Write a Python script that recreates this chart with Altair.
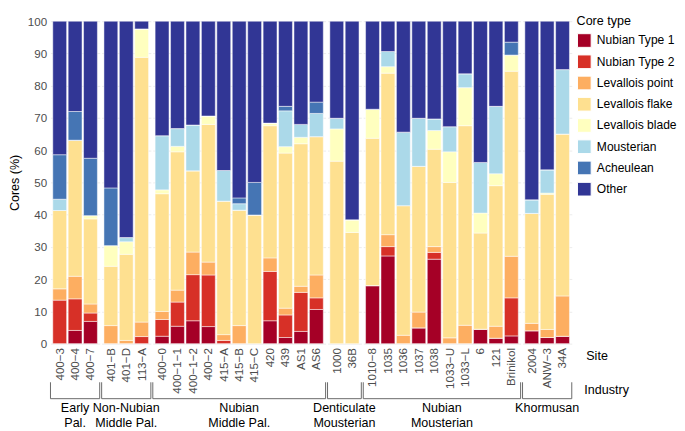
import altair as alt
import pandas as pd

# ---- data -------------------------------------------------------------
core_types = ["Nubian Type 1", "Nubian Type 2", "Levallois point", "Levallois flake",
              "Levallois blade", "Mousterian", "Acheulean", "Other"]
core_colors = ["#a50026", "#d73027", "#fdae61", "#fee090",
               "#ffffbf", "#abd9e9", "#4575b4", "#313695"]

industry_names = ["Early Pal.", "Non-Nubian Middle Pal.", "Nubian Middle Pal.",
                  "Denticulate Mousterian", "Nubian Mousterian", "Khormusan"]
industry_lines = [["Early", "Pal."], ["Non-Nubian", "Middle Pal."], ["Nubian", "Middle Pal."],
                  ["Denticulate", "Mousterian"], ["Nubian", "Mousterian"], ["Khormusan"]]
industry_sites = [
    ["400−3", "400−4", "400−7"],
    ["401−B", "401−D", "113−A"],
    ["400−0", "400−1−1", "400−1−2", "400−2", "415−A", "415−B", "415−C", "420", "439", "AS1", "AS6"],
    ["1000", "36B"],
    ["1010−8", "1035", "1036", "1037", "1038", "1033−U", "1033−L", "6", "121", "Brinikol"],
    ["2004", "ANW−3", "34A"],
]

# percentages per core type, in site order (32 sites)
nubian_type_1 = [0, 4.1, 6.9,  0, 0, 0,
                 2.3, 5.4, 7.1, 5.3, 0, 0, 0, 7.1, 1.9, 3.8, 10.6,
                 0, 0,
                 18.0, 27.2, 0, 4.9, 26.2, 0, 0, 4.5, 1.7, 2.4,
                 4.0, 1.9, 2.3]
nubian_type_2 = [13.5, 9.8, 2.6,  0, 0, 2.2,
                 5.2, 7.5, 14.3, 16.0, 1.0, 0, 0, 15.3, 7.0, 12.1, 3.6,
                 0, 0,
                 0, 2.9, 0, 0, 2.1, 0, 0, 0, 0, 11.8,
                 0, 0, 0]
levallois_point = [3.5, 7.0, 2.8,  5.6, 1.0, 4.5,
                   2.5, 3.7, 7.0, 4.0, 1.8, 5.6, 0, 4.2, 2.1, 1.9, 7.1,
                   0, 0,
                   0, 3.7, 2.6, 4.9, 1.8, 1.8, 5.7, 0, 3.7, 12.9,
                   2.3, 2.5, 12.5]
levallois_flake = [24.3, 42.2, 26.4,  18.4, 26.7, 82.1,
                   36.5, 42.9, 25.2, 42.7, 41.4, 35.8, 39.9, 41.0, 48.1, 44.2, 42.9,
                   56.6, 34.5,
                   45.7, 50.1, 40.2, 45.2, 30.2, 48.2, 61.9, 29.8, 43.6, 57.4,
                   34.1, 41.9, 50.2]
levallois_blade = [0, 0, 1.0,  6.4, 3.9, 8.8,
                   1.2, 1.7, 0, 2.6, 0, 0, 0, 0.8, 2.0, 2.0, 0,
                   10.0, 3.9,
                   9.0, 2.0, 0, 0, 5.8, 9.5, 11.8, 6.2, 3.7, 5.0,
                   0, 0.4, 0]
mousterian = [3.5, 0, 0,  0, 1.3, 0,
              16.8, 5.5, 14.2, 0, 9.5, 2.0, 0, 0, 11.1, 4.0, 7.2,
              3.3, 0,
              0, 4.7, 22.8, 14.9, 3.6, 7.8, 4.3, 15.7, 20.9, 0,
              4.2, 7.2, 20.0]
acheulean = [13.8, 8.9, 17.8,  17.9, 0, 0,
             0, 0, 0, 0, 0, 1.8, 10.1, 0, 1.4, 0, 3.5,
             0, 0,
             0, 0, 0, 0, 0, 0, 0, 0, 0, 4.0,
             0, 0, 0]
other = [41.4, 28.0, 42.5,  51.7, 67.1, 2.4,
         35.5, 33.3, 32.2, 29.4, 46.3, 54.8, 50.0, 31.6, 26.4, 32.0, 25.1,
         30.1, 61.6,
         27.3, 9.4, 34.4, 30.1, 30.3, 32.7, 16.3, 43.8, 26.4, 6.5,
         55.4, 46.1, 15.0]

series = [nubian_type_1, nubian_type_2, levallois_point, levallois_flake,
          levallois_blade, mousterian, acheulean, other]

rows = []
k = 0
for ind, sites in zip(industry_names, industry_sites):
    for s in sites:
        for t_i, (t, vals) in enumerate(zip(core_types, series)):
            rows.append({"industry": ind, "site": s, "type": t, "ord": t_i, "pct": vals[k]})
        k += 1
df = pd.DataFrame(rows)

# ---- layout -----------------------------------------------------------
STEP = 16.0
H = 334
GAP = 2
FONT = "Liberation Sans"
BRACKET = "#666666"

widths = [round(STEP * (len(s) + 0.2)) for s in industry_sites]
total_w = sum(widths) + GAP * (len(widths) - 1)

color_enc = alt.Color(
    "type:N",
    scale=alt.Scale(domain=core_types, range=core_colors),
    legend=alt.Legend(
        title="Core type", orient="none", legendX=total_w + 5, legendY=-6,
        symbolType="square", symbolSize=200, symbolStrokeColor="white",
        symbolStrokeWidth=1, symbolOpacity=1, labelFontSize=12.5,
        titleFontSize=13, titleFontWeight="normal", titleColor="black",
        labelColor="black", rowPadding=2, titlePadding=5, labelOffset=5,
    ),
)

one = alt.Data(values=[{"k": 1}])
panels = []
for i, (ind, lines, sites) in enumerate(zip(industry_names, industry_lines, industry_sites)):
    w = widths[i]
    sub = df[df["industry"] == ind]
    if i == 0:
        yaxis = alt.Axis(values=list(range(0, 101, 10)), grid=True, gridColor="#ebebeb",
                         domain=False, ticks=False, labelColor="#4d4d4d", labelFontSize=12,
                         labelPadding=4, title="Cores (%)", titleFontSize=13,
                         titleFontWeight="normal", titleColor="black", titlePadding=6)
    else:
        yaxis = alt.Axis(values=list(range(0, 101, 10)), grid=True, gridColor="#ebebeb",
                         domain=False, ticks=False, labels=False, title=None)
    bars = alt.Chart(sub).mark_bar(stroke="white", strokeWidth=0.5).encode(
        x=alt.X("site:N", sort=sites,
                scale=alt.Scale(paddingInner=0.1, paddingOuter=0.15),
                axis=alt.Axis(title=None, labelAngle=-90, labelFontSize=12,
                              labelColor="#4d4d4d", ticks=False, domain=False,
                              labelPadding=4, grid=False)),
        y=alt.Y("pct:Q", stack="zero", scale=alt.Scale(domain=[0, 100], nice=False),
                axis=yaxis),
        color=color_enc,
        order=alt.Order("ord:Q", sort="ascending"),
    )
    hline = alt.Chart(one).mark_rule(color=BRACKET, strokeWidth=1).encode(
        x=alt.value(0), x2=alt.value(w), y=alt.value(H + 57))
    lv = alt.Chart(one).mark_rule(color=BRACKET, strokeWidth=1).encode(
        x=alt.value(0), y=alt.value(H + 40), y2=alt.value(H + 57))
    rv = alt.Chart(one).mark_rule(color=BRACKET, strokeWidth=1).encode(
        x=alt.value(w), y=alt.value(H + 40), y2=alt.value(H + 57))
    txt = alt.Chart(one).mark_text(text=lines, fontSize=13, lineHeight=15, baseline="top",
                                   align="center", color="black").encode(
        x=alt.value(w / 2), y=alt.value(H + 61))
    layers = [bars, hline, lv, rv, txt]
    if i == len(industry_names) - 1:
        site_t = alt.Chart(one).mark_text(text="Site", fontSize=13, align="left",
                                          baseline="middle", color="black").encode(
            x=alt.value(w + 15), y=alt.value(H + 13))
        ind_t = alt.Chart(one).mark_text(text="Industry", fontSize=13, align="left",
                                         baseline="middle", color="black").encode(
            x=alt.value(w + 13), y=alt.value(H + 48))
        layers += [site_t, ind_t]
    panels.append(alt.layer(*layers).properties(width=w, height=H))

chart = alt.hconcat(*panels, spacing=GAP, bounds="flush").configure(
    font=FONT, padding=0
).configure_view(strokeWidth=0)

chart.save("out.html", embed_options={"renderer": "svg", "actions": False})
